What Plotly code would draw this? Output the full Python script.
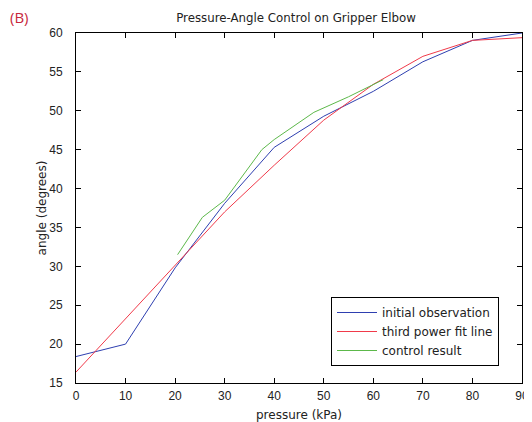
import plotly.graph_objects as go

# Data
pressure_obs = [0, 10, 20, 30, 40, 50, 60, 70, 80, 90]
angle_obs = [18.4, 20.0, 29.8, 38.1, 45.3, 49.3, 52.5, 56.3, 59.05, 60.0]

pressure_fit = [0, 10, 20, 30, 40, 50, 60, 70, 80, 90]
angle_fit = [16.4, 23.3, 30.1, 37.0, 43.0, 48.8, 53.4, 57.0, 59.05, 59.4]

pressure_ctrl = [20.5, 25.5, 30, 37.5, 40, 48, 55, 62]
angle_ctrl = [31.5, 36.3, 38.5, 45.0, 46.3, 49.8, 51.8, 54.0]

FONT = "Liberation Sans, Arial, sans-serif"
WFONT = "DejaVu Sans, Liberation Sans, sans-serif"
# The page body has an 8px margin, so the figure is 8px smaller and offset.
W, H = 524, 414
L, R, T, B = 68, 10, 25, 39
PW, PH = W - L - R, H - T - B

fig = go.Figure()
fig.add_trace(go.Scatter(x=pressure_obs, y=angle_obs, mode="lines",
                         name="initial observation",
                         line=dict(color="#2e3fb0", width=1)))
fig.add_trace(go.Scatter(x=pressure_fit, y=angle_fit, mode="lines",
                         name="third power fit line",
                         line=dict(color="#f03a4a", width=1)))
fig.add_trace(go.Scatter(x=pressure_ctrl, y=angle_ctrl, mode="lines",
                         name="control result",
                         line=dict(color="#5cb84a", width=1)))

axis_common = dict(showline=True, linecolor="black", linewidth=1, mirror="ticks",
                   ticks="inside", ticklen=5, tickcolor="black", showgrid=False,
                   zeroline=False, automargin=False,
                   tickfont=dict(family=FONT, size=12, color="#222"))

fig.update_layout(
    width=W, height=H,
    margin=dict(l=L, r=R, t=T, b=B, autoexpand=False),
    paper_bgcolor="white", plot_bgcolor="white",
    font=dict(family=FONT, size=12, color="#222"),
    title=dict(text="Pressure-Angle Control on Gripper Elbow",
               x=(L + PW / 2 - 3) / W, xanchor="center",
               y=1 - 10 / H, yanchor="middle",
               font=dict(family=WFONT, size=11.8, color="#222")),
    xaxis=dict(range=[0, 90], dtick=10, ticklabelstandoff=2,
               title=dict(text="pressure (kPa)", standoff=8,
                          font=dict(family=WFONT, size=12)), **axis_common),
    yaxis=dict(range=[15, 60], dtick=5, ticklabelstandoff=10,
               title=dict(text="angle (degrees)", standoff=0,
                          font=dict(family=WFONT, size=12)), **axis_common),
    legend=dict(x=(323 - L) / PW, y=(T + PH - 289) / PH, xanchor="left", yanchor="top",
                bordercolor="black", borderwidth=1, bgcolor="white",
                font=dict(family=WFONT, size=12, color="#222"),
                tracegroupgap=0, itemwidth=40, entrywidth=180, entrywidthmode="pixels"),
    showlegend=True,
)
fig.add_annotation(text="(B)", xref="paper", yref="paper",
                   x=-L / PW, y=1 + 16 / PH, xanchor="left", yanchor="middle",
                   showarrow=False,
                   font=dict(family="Open Sans, sans-serif", size=15, color="#c8283c"))

fig.write_html("out.html")
